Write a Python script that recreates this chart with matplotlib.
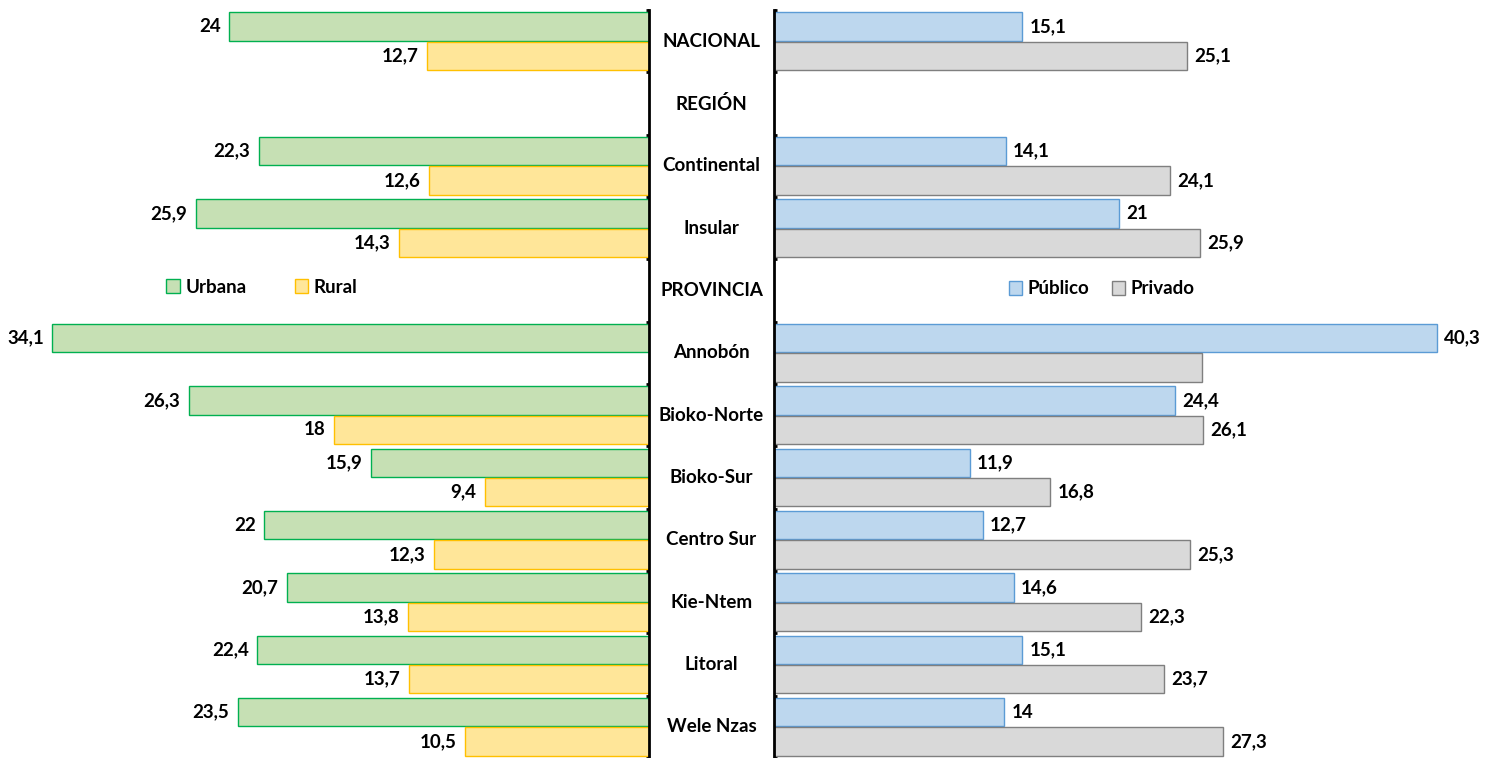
import matplotlib.pyplot as plt
import matplotlib.transforms as mtransforms
from matplotlib.patches import Patch
import numpy as np

# Datos
categorias = ['NACIONAL', 'REGIÓN', 'Continental', 'Insular', 'PROVINCIA', 'Annobón',
              'Bioko-Norte', 'Bioko-Sur', 'Centro Sur', 'Kie-Ntem', 'Litoral', 'Wele Nzas']
urbana = [24, np.nan, 22.3, 25.9, np.nan, 34.1, 26.3, 15.9, 22, 20.7, 22.4, 23.5]
rural = [12.7, np.nan, 12.6, 14.3, np.nan, np.nan, 18, 9.4, 12.3, 13.8, 13.7, 10.5]
publico = [15.1, np.nan, 14.1, 21, np.nan, 40.3, 24.4, 11.9, 12.7, 14.6, 15.1, 14]
privado = [25.1, np.nan, 24.1, 25.9, np.nan, 26.0, 26.1, 16.8, 25.3, 22.3, 23.7, 27.3]
privado_sin_etiqueta = ['Annobón']

plt.rcParams['font.family'] = ['Lato', 'DejaVu Sans']
plt.rcParams['font.weight'] = 'bold'
fs = 13.5

W, H = 1497, 758
fig = plt.figure(figsize=(W / 100, H / 100), dpi=100)

bottom = 0.0
top = (H - 10) / H
axl = fig.add_axes([0, bottom, 649 / W, top - bottom])
axr = fig.add_axes([774 / W, bottom, (W - 774) / W, top - bottom])

y = np.arange(len(categorias))
h = 0.45
off = 0.235


def fmt(v):
    if float(v).is_integer():
        return str(int(v))
    return f'{v:.1f}'.replace('.', ',')


def barras(ax, vals, pos, fc, ec, lado, ocultar=()):
    ax.barh(pos, vals, height=h, color=fc, edgecolor=ec, linewidth=1)
    for p, v, cat in zip(pos, vals, categorias):
        if np.isnan(v) or cat in ocultar:
            continue
        if lado == 'izq':
            ax.annotate(fmt(v), (v, p), xytext=(-6, 0), textcoords='offset points',
                        ha='right', va='center', fontsize=fs, fontweight='bold')
        else:
            ax.annotate(fmt(v), (v, p), xytext=(5, 0), textcoords='offset points',
                        ha='left', va='center', fontsize=fs, fontweight='bold')


barras(axl, urbana, y - off, '#C6E0B4', '#00B050', 'izq')
barras(axl, rural, y + off, '#FFE699', '#FFC000', 'izq')
barras(axr, publico, y - off, '#BDD7EE', '#5B9BD5', 'der')
barras(axr, privado, y + off, '#D9D9D9', '#7F7F7F', 'der', privado_sin_etiqueta)

axl.set_xlim(649 / 17.5, 0)
axr.set_xlim(0, (W - 774) / 16.45)

for ax in (axl, axr):
    ax.set_ylim(len(categorias) - 0.5, -0.5)
    ax.set_xticks([])
    ax.set_yticks(np.arange(-0.5, len(categorias), 1))
    ax.set_yticklabels([])
    for s in ax.spines.values():
        s.set_visible(False)

axl.spines['right'].set_visible(True)
axl.spines['right'].set_linewidth(2)
axl.yaxis.tick_right()
axl.tick_params(axis='y', direction='in', length=2.5, width=2)
axr.spines['left'].set_visible(True)
axr.spines['left'].set_linewidth(2)
axr.tick_params(axis='y', direction='in', length=2.5, width=2)

# Etiquetas de categorias en el centro
trans = mtransforms.blended_transform_factory(fig.transFigure, axl.transData)
for p, cat in zip(y, categorias):
    fig.text(711.5 / W, p, cat, transform=trans, ha='center', va='center',
             fontsize=fs, fontweight='bold')

# Leyendas
h_l = [Patch(facecolor='#C6E0B4', edgecolor='#00B050', label='Urbana'),
       Patch(facecolor='#FFE699', edgecolor='#FFC000', label='Rural')]
h_r = [Patch(facecolor='#BDD7EE', edgecolor='#5B9BD5', label='Público'),
       Patch(facecolor='#D9D9D9', edgecolor='#7F7F7F', label='Privado')]
fig.legend(handles=h_l, loc='center', bbox_to_anchor=(262 / W, 1 - 287 / H), ncol=2,
           frameon=False, handlelength=0.7, handleheight=0.7, handletextpad=0.3,
           columnspacing=2.6, prop={'size': fs, 'weight': 'bold'})
fig.legend(handles=h_r, loc='center', bbox_to_anchor=(1102 / W, 1 - 289 / H), ncol=2,
           frameon=False, handlelength=0.7, handleheight=0.7, handletextpad=0.3,
           columnspacing=1.2, prop={'size': fs, 'weight': 'bold'})

fig.savefig('out.png', dpi=100)
plt.close()
